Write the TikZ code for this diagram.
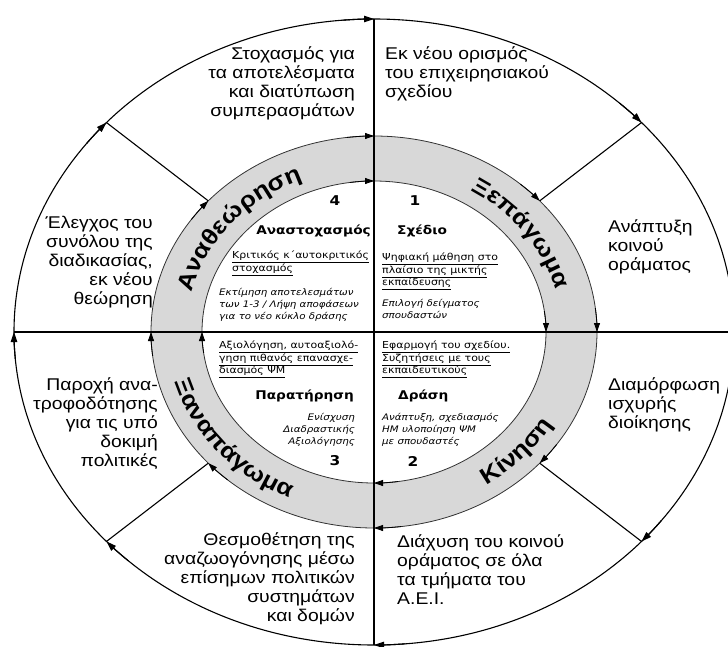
\documentclass[tikz,border=0pt]{standalone}
\usepackage{fontspec}
\setmainfont{Liberation Sans}[FakeStretch=1.14]
\newfontfamily\dvfam{DejaVu Sans}[FakeStretch=1.14]
\usetikzlibrary{arrows.meta,decorations.text}
\definecolor{ringgray}{RGB}{216,216,216}
\newcommand\ofnt{\fontsize{17}{19}\selectfont}
\newcommand\ufnt{\dvfam\fontsize{9.6}{12.5}\selectfont\lineskiplimit=-20pt\relax}
\newcommand\ifnt{\dvfam\itshape\fontsize{9}{12}\selectfont\lineskiplimit=-20pt\relax}
\newcommand\bfnt{\dvfam\bfseries\fontsize{12}{14}\selectfont}
\newcommand\nfnt{\dvfam\bfseries\fontsize{13.5}{15}\selectfont}
\newcommand\rfnt{\bfseries\fontsize{23}{23}\selectfont}
\newcommand\ulx[1]{\underline{#1\vphantom{ρ}}}
\tikzset{
  mline/.style={line width=1.1pt, black},
  redge/.style={line width=0.8pt, black!80},
  tipo/.style={-{Triangle[length=10pt,width=6.5pt]}, line width=1.1pt},
  tipr/.style={-{Triangle[length=9pt,width=6pt]}, line width=0.8pt},
  otext/.style={font=\ofnt, inner sep=0pt},
  utext/.style={font=\ufnt, inner sep=0pt, align=left},
  itext/.style={font=\ifnt, inner sep=0pt},
  lab/.style={font=\bfnt, inner sep=0pt},
  num/.style={font=\nfnt, inner sep=0pt},
  ringtext/.style={decorate, decoration={text along path, text align=center, text={#1}}}
}
\begin{document}
\begin{tikzpicture}[x=1pt,y=1pt]
\useasboundingbox (-374,-314) rectangle (354,332);
\clip (-374,-314) rectangle (354,332);
% ring
\fill[ringgray, even odd rule] (0,0) ellipse [x radius=223, y radius=196] (0,0) ellipse [x radius=172, y radius=151];
\draw[redge] (0,0) ellipse [x radius=223, y radius=196];
\draw[redge] (0,0) ellipse [x radius=172, y radius=151];
% outer
\draw[mline] (0,0) ellipse [x radius=360, y radius=313];
\coordinate (top) at (0,313);
\coordinate (bot) at (0,-313);
\coordinate (lft) at (-360,0);
\coordinate (rgt) at (360,0);
\draw[mline] (top) -- (bot);
\draw[mline] (lft) -- (rgt);
\foreach \a in {42,138,222,318}{
  \draw[mline] (\a:223 and 196) -- (\a:360 and 313);
}
% arrowheads on outer circle
\foreach \a in {90,42,0,-42,-90,-138,180,138}{
  \draw[tipo] (\a+5:360 and 313) arc[start angle=\a+5, end angle=\a, x radius=360, y radius=313];
}
% arrowheads on ring outer edge
\foreach \a in {90,42,0,-42,-90,-138,180,138}{
  \draw[tipr] (\a+7:223 and 196) arc[start angle=\a+7, end angle=\a, x radius=223, y radius=196];
}
% arrowheads on ring inner edge
\foreach \a in {90,0,-90,180}{
  \draw[tipr] (\a+8:172 and 151) arc[start angle=\a+8, end angle=\a, x radius=172, y radius=151];
}
% ring labels
\path[ringtext={|\rfnt|Αναθεώρηση}] (180:188 and 165) arc[start angle=180, end angle=100, x radius=188, y radius=165];
\path[ringtext={|\rfnt|Ξεπάγωμα}] (76:188 and 165) arc[start angle=76, end angle=-4, x radius=188, y radius=165];
\path[ringtext={|\rfnt|Κίνηση}] (-82.5:207 and 182) arc[start angle=-82.5, end angle=-2.5, x radius=207, y radius=182];
\path[ringtext={|\rfnt|Ξαναπάγωμα}] (-180:207 and 182) arc[start angle=-180, end angle=-100, x radius=207, y radius=182];
% outer texts
\node[otext, anchor=north east, align=right] (o1) at (-19,285.5) {Στοχασμός για\\τα αποτελέσματα\\και διατύπωση\\συμπερασμάτων};
\node[otext, anchor=north west, align=left] (o2) at (11,285.5) {Εκ νέου ορισμός\\του επιχειρησιακού\\σχεδίου};
\node[otext, anchor=north east, align=right] (o3) at (-221,116.5) {Έλεγχος του\\συνόλου της\\διαδικασίας,\\εκ νέου\\θεώρηση};
\node[otext, anchor=north west, align=left] (o4) at (234,112.5) {Ανάπτυξη\\κοινού\\οράματος};
\node[otext, anchor=north east, align=right] (o5) at (-216,-45.5) {Παροχή ανα-\\τροφοδότησης\\για τις υπό\\δοκιμή\\πολιτικές};
\node[otext, anchor=north west, align=left] (o6) at (234,-45.5) {Διαμόρφωση\\ισχυρής\\διοίκησης};
\node[otext, anchor=north east, align=right] (o7) at (-19,-200.5) {Θεσμοθέτηση της\\αναζωογόνησης μέσω\\επίσημων πολιτικών\\συστημάτων\\και δομών};
\node[otext, anchor=north west, align=left] (o8) at (23,-202.5) {Διάχυση του κοινού\\οράματος σε όλα\\τα τμήματα του\\Α.Ε.Ι.};
% quadrant 1
\node[num] (n1) at (41,131) {1};
\node[lab, anchor=west] (l1) at (23,101) {Σχέδιο};
\node[utext, anchor=north west] (u1) at (8,79) {\ulx{Ψηφιακή μάθηση στο}\\\ulx{πλαίσιο της μικτής}\\\ulx{εκπαίδευσης}};
\node[itext, anchor=north west, align=left] (i1) at (8,33) {Επιλογή δείγματος\\σπουδαστών};
% quadrant 4
\node[num] (n4) at (-39,131) {4};
\node[lab, anchor=east] (l4) at (-3,101) {Αναστοχασμός};
\node[utext, anchor=north west] (u4) at (-142,81) {\ulx{Κριτικός κ΄αυτοκριτικός}\\\ulx{στοχασμός}};
\node[itext, anchor=north west, align=left] (i4) at (-155,44) {Εκτίμηση αποτελεσμάτων\\των 1-3 / Λήψη αποφάσεων\\για το νέο κύκλο δράσης};
% quadrant 3
\node[utext, anchor=north west] (u3) at (-155,-9) {\ulx{Αξιολόγηση, αυτοαξιολό-}\\\ulx{γηση πιθανός επανασχε-}\\\ulx{διασμός ΨΜ}};
\node[lab, anchor=east] (l3) at (-20,-64) {Παρατήρηση};
\node[itext, anchor=north east, align=right] (i3) at (-19,-81) {Ενίσχυση\\Διαδραστικής\\Αξιολόγησης};
\node[num] (n3) at (-39,-129) {3};
% quadrant 2
\node[utext, anchor=north west] (u2) at (8,-9) {\ulx{Εφαρμογή του σχεδίου.}\\\ulx{Συζητήσεις με τους}\\\ulx{εκπαιδευτικούς}};
\node[lab, anchor=west] (l2) at (24,-64) {Δράση};
\node[itext, anchor=north west, align=left] (i2) at (8,-81) {Ανάπτυξη, σχεδιασμός\\ΗΜ υλοποίηση ΨΜ\\με σπουδαστές};
\node[num] (n2) at (39,-129) {2};
\end{tikzpicture}
\end{document}
